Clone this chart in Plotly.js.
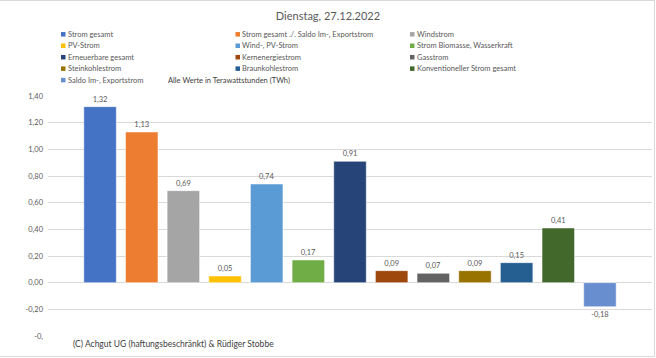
<!DOCTYPE html>
<html>
<head>
<meta charset="utf-8">
<script src="https://cdn.plot.ly/plotly-3.0.1.min.js"></script>
<style>
  html, body { margin: 0; padding: 0; background: #fff; }
  #wrap { position: relative; width: 656px; height: 358px; }
  #chart { width: 656px; height: 358px; }
  #frame { position: absolute; left: 0; top: 0; width: 655px; height: 357px;
           border-top: 1px solid #d9d9d9; border-right: 1px solid #d9d9d9; border-bottom: 1px solid #d9d9d9;
           box-sizing: border-box; pointer-events: none; }
</style>
</head>
<body>
<div id="wrap"><div id="chart"></div><div id="frame"></div></div>
<script>
const categories = [
  "Strom gesamt",
  "Strom gesamt ./. Saldo Im-, Exportstrom",
  "Windstrom",
  "PV-Strom",
  "Wind-, PV-Strom",
  "Strom Biomasse, Wasserkraft",
  "Erneuerbare gesamt",
  "Kernenergiestrom",
  "Gasstrom",
  "Steinkohlestrom",
  "Braunkohlestrom",
  "Konventioneller Strom gesamt",
  "Saldo Im-, Exportstrom"
];
const values = [1.32, 1.13, 0.69, 0.05, 0.74, 0.17, 0.91, 0.09, 0.07, 0.09, 0.15, 0.41, -0.18];
const colors = ["#4472C4", "#ED7D31", "#A5A5A5", "#FFC000", "#5B9BD5", "#70AD47",
                "#264478", "#9E480E", "#636363", "#997300", "#255E91", "#43682B", "#698ED0"];
const tickVals = [-0.4, -0.2, 0, 0.2, 0.4, 0.6, 0.8, 1.0, 1.2, 1.4];
const tickText = ["-0,", "-0,20", "0,00", "0,20", "0,40", "0,60", "0,80", "1,00", "1,20", "1,40"];
const titleText = "Dienstag, 27.12.2022";
const unitNote = "Alle Werte in Terawattstunden (TWh)";
const copyright = "(C) Achgut UG (haftungsbeschränkt) &amp; Rüdiger Stobbe";

const W = 656, H = 358;
const M = {l: 48, r: 4, t: 96, b: 22};
const PW = W - M.l - M.r, PH = H - M.t - M.b;
const xp = px => (px - M.l) / PW;
const yp = py => (H - M.b - py) / PH;

const FONT = "Lato, 'Open Sans', sans-serif";
const labels = values.map(v => v.toFixed(2).replace('.', ','));

const trace = {
  type: 'bar',
  x: categories.map((c, i) => i),
  y: values,
  marker: {color: colors, line: {color: '#ffffff', width: 0.5}},
  text: labels,
  textposition: 'outside',
  cliponaxis: false,
  textfont: {family: FONT, size: 7.5, color: '#595959'},
  hoverinfo: 'none',
  showlegend: false
};

const shapes = [];
const annotations = [];
const colMarkerX = [61, 235.5, 410];
const rowY0 = 34.3, rowStep = 11.45, sq = 4.5;
categories.forEach((name, i) => {
  const col = i % 3, row = Math.floor(i / 3);
  const mx = colMarkerX[col], my = rowY0 + row * rowStep;
  shapes.push({
    type: 'rect', xref: 'paper', yref: 'paper', layer: 'above',
    x0: xp(mx), x1: xp(mx + sq), y0: yp(my + sq / 2), y1: yp(my - sq / 2),
    fillcolor: colors[i], line: {width: 0}
  });
  annotations.push({
    xref: 'paper', yref: 'paper', x: xp(mx + sq + 1), y: yp(my),
    xanchor: 'left', yanchor: 'middle', showarrow: false, borderpad: 0,
    text: name, font: {family: FONT, size: 7.5, color: '#595959'}
  });
});
annotations.push({
  xref: 'paper', yref: 'paper', x: xp(166.5), y: yp(80),
  xanchor: 'left', yanchor: 'middle', showarrow: false, borderpad: 0,
  text: unitNote, font: {family: FONT, size: 7.5, color: '#404040'}
});
annotations.push({
  xref: 'paper', yref: 'paper', x: xp(72), y: yp(344),
  xanchor: 'left', yanchor: 'middle', showarrow: false, borderpad: 0,
  text: copyright, font: {family: FONT, size: 8.5, color: '#404040'}
});
// white text box of the copyright covering the lowest gridline
shapes.push({
  type: 'rect', xref: 'paper', yref: 'paper', layer: 'above',
  x0: xp(47), x1: xp(380), y0: yp(339), y1: yp(332),
  fillcolor: '#ffffff', line: {width: 0}
});

const layout = {
  width: W, height: H,
  margin: M,
  paper_bgcolor: '#ffffff', plot_bgcolor: '#ffffff',
  font: {family: FONT, color: '#595959'},
  title: {text: titleText, x: 0.5, xref: 'container', xanchor: 'center',
          y: 1 - 16 / H, yref: 'container', yanchor: 'middle',
          font: {family: FONT, size: 11, color: '#595959'}},
  bargap: 0.22,
  xaxis: {range: [-1.25, 13.25], showticklabels: false, showgrid: false, zeroline: false,
          showline: false, ticks: '', fixedrange: true},
  yaxis: {range: [-0.4, 1.4], tickvals: tickVals, ticktext: tickText,
          showgrid: true, gridcolor: '#d9d9d9', gridwidth: 1,
          zeroline: true, zerolinecolor: '#d9d9d9', zerolinewidth: 1,
          showline: false, ticks: '', ticklabelstandoff: 4,
          tickfont: {family: FONT, size: 7.5, color: '#595959'}, fixedrange: true},
  shapes: shapes,
  annotations: annotations
};

Plotly.newPlot('chart', [trace], layout, {displayModeBar: false, staticPlot: true});
</script>
</body>
</html>
